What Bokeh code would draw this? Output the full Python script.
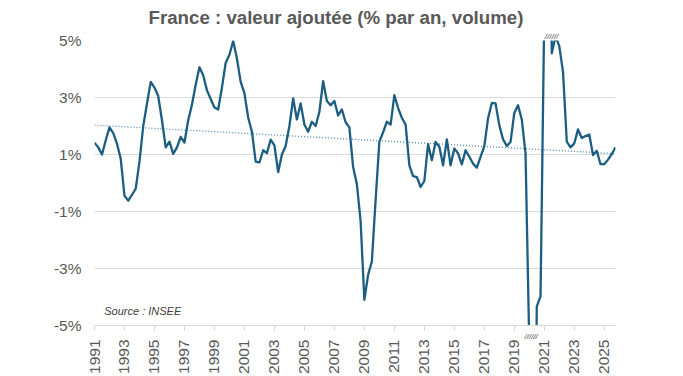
import math
from bokeh.plotting import figure
from bokeh.models import (Range1d, FixedTicker, Label, ColumnDataSource, Title,
                          LinearAxis)
from bokeh.embed import file_html
from bokeh.resources import INLINE

# ---------------- data (quarterly, 1991Q1 -> 2025Q4) ----------------
start_year = 1991
values = [
    1.41, 1.25, 1.00, 1.50, 1.95, 1.75, 1.38, 0.85,   # 1991-1992
    -0.45, -0.62, -0.42, -0.20, 0.75, 2.00, 2.78, 3.55,  # 1993-1994
    3.35, 3.05, 2.20, 1.25, 1.45, 1.02, 1.25, 1.62,   # 1995-1996
    1.42, 2.20, 2.75, 3.45, 4.06, 3.78, 3.25, 2.95,   # 1997-1998
    2.65, 2.58, 3.35, 4.22, 4.50, 4.98, 4.37, 3.55,   # 1999-2000
    3.15, 2.30, 1.80, 0.75, 0.72, 1.15, 1.05, 1.52,   # 2001-2002
    1.32, 0.38, 1.00, 1.30, 2.00, 2.97, 2.23, 2.79,   # 2003-2004
    2.05, 1.80, 2.15, 2.00, 2.50, 3.57, 2.88, 2.73,   # 2005-2006
    2.88, 2.37, 2.58, 2.13, 1.95, 0.56, -0.04, -1.35, # 2007-2008
    -4.10, -3.22, -2.75, -0.60, 1.45, 1.78, 2.15, 2.05,  # 2009-2010
    3.08, 2.63, 2.29, 2.05, 0.62, 0.24, 0.21, -0.14,  # 2011-2012
    0.07, 1.36, 0.80, 1.44, 1.27, 0.62, 1.53, 0.62,   # 2013-2014
    1.21, 1.04, 0.65, 1.15, 0.92, 0.68, 0.54, 0.92,   # 2015-2016
    1.29, 2.27, 2.81, 2.79, 2.03, 1.53, 1.30, 1.44,   # 2017-2018
    2.46, 2.73, 2.23, 1.03, -5.70, -18.50, -4.33, -3.98,  # 2019-2020
    6.00, 19.00, 4.55, 5.15, 4.80, 3.90, 1.45, 1.25,  # 2021-2022
    1.39, 1.88, 1.58, 1.65, 1.70, 0.98, 1.13, 0.66,   # 2023-2024
    0.66, 0.82, 1.01, 1.25,                           # 2025
]
trend_start = 2.03   # linear trend value at first quarter
trend_end = 1.03     # linear trend value at last quarter
tick_years = list(range(1991, 2026, 2))
y_ticks = [-5, -3, -1, 1, 3, 5]
y_min, y_max = -5, 5
title_text = "France :  valeur ajoutée (% par an, volume)"
source_text = "Source : INSEE"
break_mark = "//////"

# ---------------- build ----------------
x = [start_year + i / 4 for i in range(len(values))]
src = ColumnDataSource(dict(x=x, y=values))
trend_src = ColumnDataSource(dict(x=[x[0], x[-1]], y=[trend_start, trend_end]))

FONT = "Liberation Sans"
GREY = "#595959"
GRID = "#d9d9d9"
W, H = 683, 376
BL, BR, BT, BB = 94, 68, 40, 51
FRAME_W = W - BL - BR

p = figure(width=W, height=H, output_backend="svg", toolbar_location=None,
           x_range=Range1d(x[0], x[-1]), y_range=Range1d(y_min, y_max),
           x_axis_location=None,
           min_border_left=BL, min_border_right=BR, min_border_top=BT,
           min_border_bottom=BB)
p.outline_line_color = None
p.background_fill_color = "white"
p.border_fill_color = "white"

p.title = Title(text=title_text, align="left", offset=54, standoff=4,
                text_font=FONT, text_font_style="bold",
                text_font_size="18.7px", text_color=GREY)

p.line("x", "y", source=trend_src, line_color="#4f86a8", line_width=1.3,
       line_dash="1 2")
p.line("x", "y", source=src, line_color="#1b5e82", line_width=2.3,
       line_join="round")

# axis-break marks where the series leaves the scale
above = [xi for xi, v in zip(x, values) if v > y_max]
below = [xi for xi, v in zip(x, values) if v < y_min]
mark_w = 13
if above:
    xa = sum(above) / len(above)
    off = (xa - x[0]) / (x[-1] - x[0]) * FRAME_W - mark_w / 2 + 2
    p.add_layout(Title(text=break_mark, align="left", offset=off, standoff=0,
                       text_font=FONT, text_font_style="italic",
                       text_font_size="8px", text_color="#404040"), "above")

# bottom: an axis carrying the year tick marks and the break mark
xb = sum(below) / len(below) if below else None
hatch_axis = LinearAxis(
    ticker=FixedTicker(ticks=[xb] if xb is not None else [], minor_ticks=tick_years),
    major_label_overrides={xb: break_mark} if xb is not None else {},
    axis_line_color=GRID, major_tick_line_color=None,
    major_tick_out=0, major_tick_in=0,
    minor_tick_line_color=GRID, minor_tick_out=5, minor_tick_in=0,
    major_label_standoff=1,
    major_label_text_font=FONT, major_label_text_font_style="italic",
    major_label_text_font_size="8px", major_label_text_color="#404040")
p.add_layout(hatch_axis, "below")

# year labels
year_axis = LinearAxis(
    ticker=FixedTicker(ticks=tick_years, minor_ticks=[]),
    major_label_orientation=math.pi / 2,
    axis_line_color=None, major_tick_line_color=None,
    minor_tick_line_color=None, major_tick_out=0, major_tick_in=0,
    major_label_standoff=-4,
    major_label_text_font=FONT, major_label_text_font_size="15.5px",
    major_label_text_color=GREY)
p.add_layout(year_axis, "below")

p.yaxis.ticker = FixedTicker(ticks=y_ticks, minor_ticks=[])
p.yaxis.major_label_overrides = {t: f"{t}%" for t in y_ticks}
p.yaxis.axis_line_color = None
p.yaxis.major_tick_line_color = None
p.yaxis.minor_tick_line_color = None
p.yaxis.major_tick_out = 0
p.yaxis.major_tick_in = 0
p.yaxis.major_label_standoff = 13
p.yaxis.major_label_text_font = FONT
p.yaxis.major_label_text_font_size = "15.5px"
p.yaxis.major_label_text_color = GREY

p.xgrid.grid_line_color = None
p.ygrid.ticker = FixedTicker(ticks=y_ticks)
p.ygrid.grid_line_color = GRID
p.ygrid.grid_line_width = 1

# source
p.add_layout(Label(x=x[0] + 0.65, y=y_min + 0.5, text=source_text,
                   text_font=FONT, text_font_style="italic",
                   text_font_size="11px", text_color="#404040",
                   text_align="left", text_baseline="middle"))

open("out.html", "w").write(file_html(p, INLINE))
